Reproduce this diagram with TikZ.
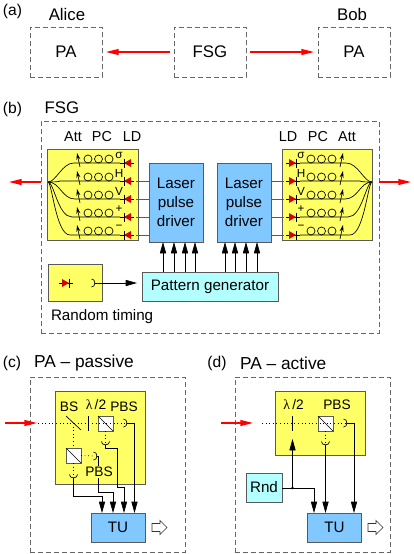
\documentclass[tikz,border=0pt]{standalone}
\usepackage{fontspec}
\setmainfont{Liberation Sans}
\newfontfamily\lamfont{Liberation Serif}
\usetikzlibrary{arrows.meta}
\definecolor{ybox}{HTML}{FFFF66}
\definecolor{bbox}{HTML}{80C8FF}
\definecolor{cbox}{HTML}{B3FFFF}
\definecolor{edgegray}{HTML}{5A5A5A}
\definecolor{dashgray}{HTML}{666666}
\definecolor{ldred}{HTML}{D40000}
\tikzset{
 x=0.75pt,y=-0.75pt,
 sz/.style 2 args={minimum width=#1*0.75pt,minimum height=#2*0.75pt},
 every node/.style={inner sep=0pt,outer sep=0pt},
 lab/.style={font=\fontsize{11.4}{14.25}\selectfont,align=center},
 big/.style={font=\fontsize{12.6}{14}\selectfont},
 head/.style={font=\fontsize{13}{15}\selectfont},
 panel/.style={font=\fontsize{11.7}{14}\selectfont},
 mid/.style={font=\fontsize{10.3}{12}\selectfont},
 small/.style={font=\fontsize{8.8}{10}\selectfont},
 att/.style={font=\fontsize{10.8}{12}\selectfont},
 dbox/.style={draw=dashgray,line width=0.7pt,dash pattern=on 3.4pt off 2.6pt},
 ybx/.style={draw=edgegray,fill=ybox,line width=0.7pt},
 bbx/.style={draw=edgegray,fill=bbox,line width=0.7pt,lab},
 cbx/.style={draw=edgegray,fill=cbox,line width=0.7pt,lab},
 pbs/.style={draw=edgegray,fill=white,line width=0.7pt,sz={15}{15}},
 sig/.style={line width=0.5pt,-{Triangle[length=8.5pt,width=4.6pt]}},
 redarrow/.style={red,line width=1pt,-{Triangle[length=9.5pt,width=4.4pt]}},
 beam/.style={line width=0.5pt,dash pattern=on 0.6pt off 2.1pt},
 fibre/.style={line width=0.5pt,black},
 hollow/.style={draw=black!80,fill=white,line width=0.5pt},
 det/.pic={\draw[line width=0.5pt] (-1.5,-4) .. controls (3,-4) and (3,4) .. (-1.5,4);},
}
\newcommand{\ldiode}[1]{%
 \draw[line width=0.5pt] (-7,0) -- (7,0);
 \fill[ldred] (-3,0) -- (4,-4) -- (4,4) -- cycle;
 \draw[line width=0.6pt] (-3,-4.5) -- (-3,4.5);
}
\newcommand{\channels}[1]{%
 \node[ybx,sz={90.5}{91}] (yb#1) at (92.75,195) {};
 \coordinate (join#1) at (48,182);
 \foreach \i/\yy/\cc/\dd/\ee/\lbl in {1/163/56/62/74/σ,2/181/60/60/60/H,3/199/60/62/75/V,4/217/54/58/72/+,5/235/52/56/70/−}{
  \coordinate (ld#1\i) at (127,\yy);
  \draw[fibre] (join#1) .. controls (\cc,182) and (\dd,\yy) .. (\ee,\yy) -- (120,\yy);
  \foreach \xx in {88,98.5,109} \draw[line width=0.5pt] (\xx,\yy-4) circle[radius=4];
  \draw[line width=0.5pt,-{Stealth[length=5pt,width=3pt]}] (80,\yy+4) -- (77,\yy-10);
  \begin{scope}[shift={(ld#1\i)}]\ldiode{}\end{scope}
  \node[small] at (119,\yy-7.5) {\lbl};
 }
 \node[att] at (73,137) {Att};
 \node[att] at (102,137) {PC};
 \node[att] at (132,137) {LD};
}
\begin{document}
\begin{tikzpicture}
\useasboundingbox (0,0) rectangle (414,554);
% panel labels
\node[panel] (la) at (12.5,11) {(a)};
\node[big] (alice) at (67,14) {Alice};
\node[big] (bob) at (352,14) {Bob};
\node[panel] (lb) at (12.5,109) {(b)};
\node[big] (fsgt) at (62,108) {FSG};
\node[panel] (lc) at (12,363) {(c)};
\node[head,anchor=west] (pac) at (34,363) {PA – passive};
\node[panel] (ld) at (217,363) {(d)};
\node[head,anchor=west] (pad) at (240,363) {PA – active};
% (a)
\node[dbox,big,sz={72}{50}] (paA) at (66,52) {PA};
\node[dbox,big,sz={72}{50}] (fsg) at (210,52) {FSG};
\node[dbox,big,sz={72}{50}] (paB) at (354,52) {PA};
\draw[redarrow,shorten <=3pt,shorten >=3pt] (fsg) -- (paA);
\draw[redarrow,shorten <=3pt,shorten >=3pt] (fsg) -- (paB);
% (b)
\node[dbox,sz={338}{212},anchor=north west] (fsgb) at (41,121) {};
\begin{scope}\channels{L}\end{scope}
\begin{scope}[shift={(420,0)},xscale=-1]\channels{R}\end{scope}
\node[bbx,sz={54}{79}] (drvL) at (176,202.5) {Laser\\pulse\\driver};
\node[bbx,sz={54}{79}] (drvR) at (244,202.5) {Laser\\pulse\\driver};
\foreach \i in {2,3,4,5}{
 \draw[edgegray,line width=0.7pt] (ldL\i) ++(9,0) -- (ldL\i -| drvL.west);
 \draw[edgegray,line width=0.7pt] (ldR\i) ++(-9,0) -- (ldR\i -| drvR.east);
}
\node[cbx,sz={136}{29}] (pg) at (210,286.5) {Pattern generator};
\foreach \xx in {163,174,185,195}{\coordinate (p) at (\xx,272);\draw[sig] (p) -- (p |- drvL.south);}
\foreach \xx in {225,235,246,257}{\coordinate (p) at (\xx,272);\draw[sig] (p) -- (p |- drvR.south);}
\node[ybx,sz={54}{37},anchor=north west] (rt) at (48,264) {};
\begin{scope}[shift={(66,283)},xscale=-1]\ldiode{}\end{scope}
\pic at (93,283) {det};
\coordinate (rtout) at (95,283);
\draw[sig] (rtout) -- (137,283);
\node[lab,anchor=west] (rtt) at (51,317) {Random timing};
\coordinate (arL) at (41,182);\coordinate (arLe) at (9,182);
\coordinate (arR) at (379,182);\coordinate (arRe) at (411,182);
\draw[redarrow] (arL) -- (arLe);
\draw[redarrow] (arR) -- (arRe);
% (c)
\node[dbox,sz={155}{175},anchor=north west] (boxc) at (30,377) {};
\node[ybx,sz={90}{93},anchor=north west] (yc) at (55,391) {};
\node[mid] at (69,407) {BS};
\node[mid] at (96,404.5) {{\lamfont λ}\,/2};
\node[mid] at (124,407) {PBS};
\node[pbs] (pbs1) at (105.5,423.5) {};
\node[pbs] (pbs2) at (73.5,455.5) {};
\draw[line width=0.5pt] (pbs1.north west) -- (pbs1.south east);
\draw[line width=0.5pt] (pbs2.north west) -- (pbs2.south east);
\coordinate (bs) at (73.5,423);
\coordinate (inc) at (38,423);
\coordinate (detA) at (125,423);
\coordinate (detB) at (105.5,443);
\coordinate (detC) at (95,456);
\coordinate (detD) at (73.5,476);
\draw[beam] (inc) -- (detA);
\draw[beam] (bs) -- (pbs2.north);
\draw[beam] (pbs1.south) -- (detB);
\draw[beam] (pbs2.east) -- (detC);
\draw[beam] (pbs2.south) -- (detD);
\draw[line width=0.5pt] (66,416) -- (81,430);
\draw[line width=0.7pt] (88,416) -- (88,431);
\pic at (detA) {det};
\pic at (detC) {det};
\pic[rotate=-90] at (detB) {det};
\pic[rotate=-90] at (detD) {det};
\node[bbx,sz={54}{29},anchor=north west] (tuc) at (91,513) {TU};
\draw[sig] (detD) ++(0,2) -- (73.5,496) -| (tuc.north -| 102,0);
\draw[sig] (detC) ++(2,0) -- (98,456) -- (98,492) -| (tuc.north -| 113,0);
\draw[sig] (detB) ++(0,2) -- (105.5,448) -- (117,448) -- (117,487) -| (tuc.north -| 124,0);
\draw[sig] (detA) ++(2,0) -| (tuc.north -| 134.5,0);
\node[mid,fill=ybox,inner sep=1pt] at (99,472) {PBS};
\coordinate (redc) at (5,423);\coordinate (redce) at (37,423);
\draw[redarrow] (redc) -- (redce);
\draw[hollow] (152,523.5) -- (160,523.5) -- (160,520.5) -- (167,527.5) -- (160,534.5) -- (160,531.5) -- (152,531.5) -- cycle;
% (d)
\node[dbox,sz={155}{175},anchor=north west] (boxd) at (235,377) {};
\node[ybx,sz={90}{64},anchor=north west] (yd) at (275,391) {};
\node[mid] at (293.5,404.5) {{\lamfont λ}\,/2};
\node[mid] at (337,404.5) {PBS};
\node[pbs] (pbs3) at (325.5,423.5) {};
\draw[line width=0.5pt] (pbs3.north west) -- (pbs3.south east);
\coordinate (ind) at (262,423);
\coordinate (detE) at (345,423);
\coordinate (detF) at (325.5,443);
\draw[beam] (ind) -- (detE);
\draw[beam] (pbs3.south) -- (detF);
\draw[line width=0.7pt] (292.5,416) -- (292.5,431);
\pic at (detE) {det};
\pic[rotate=-90] at (detF) {det};
\node[bbx,sz={54}{29},anchor=north west] (tud) at (307.5,513) {TU};
\node[cbx,sz={36}{29},anchor=north west] (rnd) at (246,473) {Rnd};
\coordinate (branch) at (292.5,488);
\fill (branch) circle[radius=1.4];
\draw[sig] (branch) -- (292.5,439);
\draw[sig] (rnd.east |- branch) -- (314,488) -- (314,513);
\draw[sig] (detF) ++(0,2) -- (325.5,513);
\draw[sig] (detE) ++(2,0) -| (354,513);
\coordinate (redd) at (221,423);\coordinate (redde) at (253,423);
\draw[redarrow] (redd) -- (redde);
\draw[hollow] (368,523.5) -- (376,523.5) -- (376,520.5) -- (383,527.5) -- (376,534.5) -- (376,531.5) -- (368,531.5) -- cycle;
\end{tikzpicture}
\end{document}
